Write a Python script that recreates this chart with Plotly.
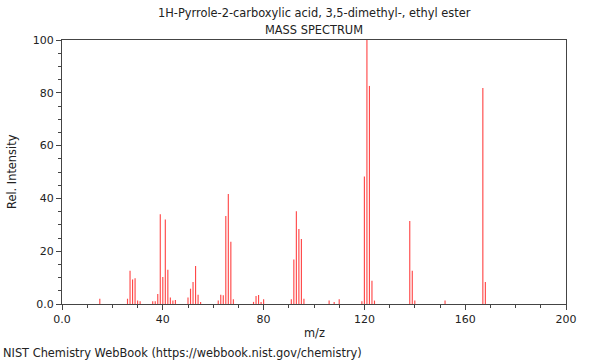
import plotly.graph_objects as go

mz = [15, 26, 27, 28, 29, 30, 31, 36, 37, 38, 39, 40, 41, 42, 43, 44, 45,
      50, 51, 52, 53, 54, 55, 62, 63, 64, 65, 66, 67, 68, 76, 77, 78, 79, 80,
      91, 92, 93, 94, 95, 96, 106, 108, 110, 119, 120, 121, 122, 123, 124,
      138, 139, 140, 152, 167, 168]
intensity = [2.0, 2.0, 12.6, 9.3, 9.8, 1.3, 1.0, 1.0, 1.0, 3.8, 34.0, 10.2, 32.0, 13.0, 2.5, 1.3, 1.5,
             2.5, 5.8, 8.3, 14.4, 3.5, 0.8, 1.3, 3.5, 3.3, 33.3, 41.7, 23.6, 1.8, 0.8, 3.0, 3.4, 0.8, 1.8,
             1.8, 16.9, 35.1, 28.4, 24.6, 2.0, 1.3, 0.8, 1.8, 1.0, 48.3, 100.0, 82.6, 8.8, 1.3,
             31.4, 12.6, 1.3, 1.3, 81.8, 8.3]

x_tickvals = [0, 40, 80, 120, 160, 200]
x_ticktext = ["0.0", "40", "80", "120", "160", "200"]
y_tickvals = [0, 20, 40, 60, 80, 100]
y_ticktext = ["0.0", "20", "40", "60", "80", "100"]

title1 = "1H-Pyrrole-2-carboxylic acid, 3,5-dimethyl-, ethyl ester"
title2 = "MASS SPECTRUM"
footer = "NIST Chemistry WebBook (https://webbook.nist.gov/chemistry)"

font = "DejaVu Sans"

fig = go.Figure(go.Bar(x=mz, y=intensity, width=0.45,
                       marker=dict(color="rgba(255,40,40,0.85)", line=dict(width=0))))

axis_common = dict(showline=True, linecolor="#444", linewidth=1, mirror=True,
                   showgrid=False, zeroline=False, ticks="outside", ticklen=5,
                   tickcolor="#444", tickfont=dict(family=font, size=11, color="#222"))

fig.update_xaxes(range=[0, 200], tickvals=x_tickvals, ticktext=x_ticktext,
                 minor=dict(dtick=10, ticks="outside", ticklen=3, tickcolor="#444"),
                 **axis_common)
fig.update_yaxes(range=[0, 100], tickvals=y_tickvals, ticktext=y_ticktext,
                 minor=dict(dtick=5, ticks="outside", ticklen=3, tickcolor="#444"),
                 **axis_common)

ann_font = dict(family=font, size=11.4, color="#222")
fig.update_layout(
    width=600, height=360,
    margin=dict(l=62, r=34, t=40, b=56),
    paper_bgcolor="white", plot_bgcolor="white",
    showlegend=False,
    annotations=[
        dict(text=title1, xref="paper", yref="paper", x=0.5, y=1, yanchor="middle",
             yshift=27, showarrow=False, font=ann_font),
        dict(text=title2, xref="paper", yref="paper", x=0.5, y=1, yanchor="middle",
             yshift=10, showarrow=False, font=ann_font),
        dict(text="m/z", xref="paper", yref="paper", x=0.5, y=0, yanchor="middle",
             yshift=-29, showarrow=False, font=ann_font),
        dict(text="Rel. Intensity", xref="paper", yref="paper", x=0, y=0.5,
             xanchor="center", xshift=-50, textangle=-90, showarrow=False, font=ann_font),
        dict(text=footer, xref="paper", yref="paper", x=0, y=0, xanchor="left",
             yanchor="middle", xshift=-61, yshift=-49, showarrow=False, font=ann_font),
    ],
)

fig.write_html("out.html", config={"displayModeBar": False},
               post_script="document.body.style.margin='0px';")
